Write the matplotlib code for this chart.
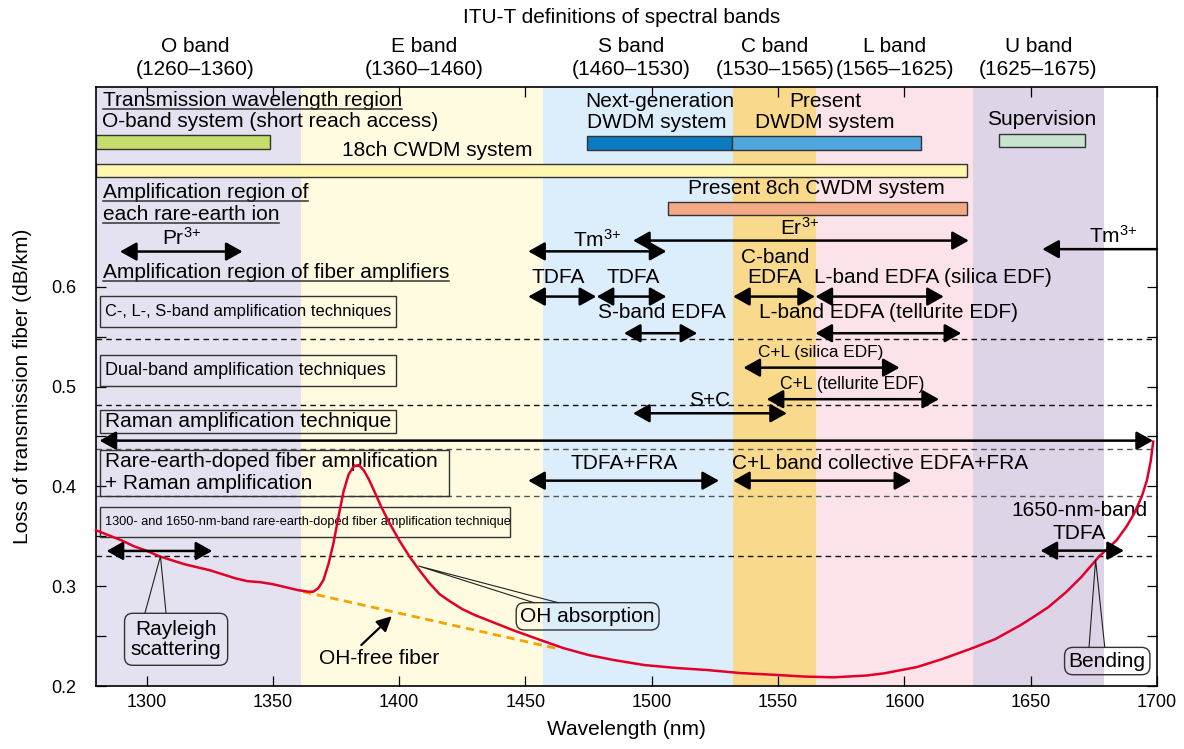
import matplotlib
matplotlib.use('Agg')
import matplotlib.pyplot as plt
from matplotlib.patches import Rectangle
from matplotlib import font_manager
import numpy as np

plt.rcParams['font.family'] = ['Liberation Sans', 'DejaVu Sans']
plt.rcParams['mathtext.default'] = 'regular'

# Liberation Sans Narrow for the squeezed labels, if it is there
narrow = None
for f in font_manager.fontManager.ttflist:
    if f.name == 'Liberation Sans Narrow' and f.weight in (400, 'normal') and f.style == 'normal':
        narrow = f.fname

# ITU-T bands
band_names = ['O band', 'E band', 'S band', 'C band', 'L band', 'U band']
band_ranges = ['(1260–1360)', '(1360–1460)', '(1460–1530)', '(1530–1565)', '(1565–1625)', '(1625–1675)']
band_label_x = [1319.1, 1410.0, 1491.7, 1548.7, 1596.2, 1653.0]
shade_start = [1280, 1361, 1457, 1532, 1565, 1627]
shade_end = [1361, 1457, 1532, 1565, 1627, 1679]
shade_colors = ['#e4e2f0', '#fefbe0', '#dcedfb', '#f9da8c', '#fce3e9', '#ddd4e7']

# loss of transmission fiber
loss_wl = [1280, 1285, 1290, 1295, 1300, 1305, 1310, 1315, 1320, 1325, 1330, 1335,
           1340, 1345, 1350, 1355, 1360, 1364, 1366, 1368, 1370, 1372, 1374, 1376,
           1378, 1380, 1382, 1384, 1386, 1388, 1390, 1393, 1396, 1400, 1404, 1408,
           1412, 1416, 1420, 1425, 1430, 1436, 1445, 1456, 1465, 1475, 1485, 1497,
           1510, 1522, 1535, 1550, 1560, 1572, 1585, 1592, 1605, 1615, 1627, 1636,
           1646, 1651, 1657, 1664, 1670, 1677, 1684, 1688, 1691, 1694, 1696, 1697.5,
           1698.5]
loss_db = [0.356, 0.351, 0.346, 0.340, 0.3355, 0.330, 0.326, 0.322, 0.319, 0.316, 0.312, 0.308,
           0.305, 0.304, 0.302, 0.299, 0.296, 0.2945, 0.2945, 0.298, 0.306, 0.322, 0.343, 0.370,
           0.395, 0.412, 0.420, 0.4214, 0.416, 0.407, 0.396, 0.379, 0.364, 0.346, 0.330, 0.316,
           0.303, 0.292, 0.285, 0.277, 0.271, 0.265, 0.256, 0.246, 0.238, 0.231, 0.226, 0.221,
           0.218, 0.216, 0.213, 0.211, 0.2095, 0.2087, 0.2105, 0.2127, 0.219, 0.227, 0.238, 0.247,
           0.261, 0.269, 0.279, 0.294, 0.309, 0.3296, 0.346, 0.360, 0.373, 0.390, 0.406, 0.425,
           0.4448]
ohfree_wl = [1362, 1462]
ohfree_db = [0.2945, 0.2378]

# system bars: start, end, bottom, top, colour
bar_start = [1280, 1280, 1474.3, 1531.8, 1637.4, 1506.3]
bar_end = [1348.7, 1624.8, 1531.8, 1606.5, 1671.3, 1624.8]
bar_low = [0.7381, 0.7097, 0.7371, 0.7371, 0.7397, 0.6719]
bar_high = [0.7521, 0.7230, 0.7505, 0.7505, 0.7528, 0.6853]
bar_colors = ['#c6dc6c', '#fff6b0', '#0a7bc1', '#4fa6dc', '#c7e4cf', '#f5aa86']

# amplification ranges (from, to, level, style)
amp_from = [1289.5, 1451.1, 1492.6, 1700, 1451.1, 1478.2, 1532.2, 1564.8, 1489, 1564.8,
            1536.3, 1545.5, 1492.6, 1281.4, 1451.1, 1532.2, 1284.2, 1653.9]
amp_to = [1338, 1505.8, 1625.5, 1654.6, 1478, 1505.8, 1564.6, 1615.6, 1518, 1622.5,
          1598.1, 1613.7, 1553.5, 1698.4, 1526.6, 1602.7, 1326, 1686.9]
amp_level = [0.6352, 0.6354, 0.6462, 0.6376, 0.5901, 0.5901, 0.5901, 0.5901, 0.5534, 0.5534,
             0.5189, 0.4873, 0.4732, 0.4458, 0.4057, 0.4057, 0.3353, 0.3356]
amp_style = ['<|-|>', '<|-|>', '<|-|>', '-|>'] + ['<|-|>'] * 14

# separators
sep_y = [0.5477, 0.4816, 0.4372, 0.3907, 0.3298]
sep_col = ['#111111', '#111111', '#555555', '#555555', '#111111']

FS = 15

fig = plt.figure(figsize=(11.84, 7.49), dpi=100)
ax = fig.add_axes([0.0811, 0.0841, 0.8961, 0.7997])
ax.set_xlim(1280, 1700)
ax.set_ylim(0.2, 0.8)

for s, e, c in zip(shade_start, shade_end, shade_colors):
    ax.axvspan(s, e, color=c, lw=0, zorder=0)

for y, c in zip(sep_y, sep_col):
    ax.axhline(y, color=c, lw=1, ls=(0, (4, 3)), zorder=1)

for x0, x1, y0, y1, c in zip(bar_start, bar_end, bar_low, bar_high, bar_colors):
    ax.add_patch(Rectangle((x0, y0), x1 - x0, y1 - y0, fc=c, ec='#333333', lw=1, zorder=2))

ax.plot(ohfree_wl, ohfree_db, color='#f5a300', lw=2, ls=(0, (3, 2)), zorder=3)
ax.plot(loss_wl, loss_db, color='#e2002b', lw=1.8, zorder=4, clip_on=False)

for x0, x1, y, st in zip(amp_from, amp_to, amp_level, amp_style):
    ax.annotate('', xy=(x1, y), xytext=(x0, y),
                arrowprops=dict(arrowstyle=st + ',head_length=0.5,head_width=0.28',
                                mutation_scale=20, lw=1.8, color='black',
                                shrinkA=0, shrinkB=0), zorder=5)

# band headers
ax.text(1488.1, 0.8693, 'ITU-T definitions of spectral bands', ha='center', va='center', fontsize=FS)
for x, n, r in zip(band_label_x, band_names, band_ranges):
    ax.text(x, 0.8403, n, ha='center', va='center', fontsize=FS)
    ax.text(x, 0.8172, r, ha='center', va='center', fontsize=FS)

squeezed = []  # (text artist, target width in px)


def squeeze(x, y, s, size, width, **kw):
    props = dict(ha='left', va='center', fontsize=size)
    props.update(kw)
    if narrow:
        props['fontproperties'] = font_manager.FontProperties(fname=narrow, size=size)
        props.pop('fontsize')
    t = ax.text(x, y, s, **props)
    squeezed.append((t, width))
    return t


# left-hand boxes
box_low = [0.5597, 0.5006, 0.4535]
box_high = [0.5908, 0.5317, 0.4766]
for y0, y1 in zip(box_low, box_high):
    ax.add_patch(Rectangle((1281.4, y0), 1398.6 - 1281.4, y1 - y0, fc='none', ec='#333333', lw=1, zorder=3))
squeeze(1283.6, 0.5752, 'C-, L-, S-band amplification techniques', FS - 1, 285)
squeeze(1283.6, 0.5161, 'Dual-band amplification techniques', FS - 1, 282)
ax.text(1283.6, 0.4650, 'Raman amplification technique', ha='left', va='center', fontsize=FS)
ax.add_patch(Rectangle((1281.4, 0.3904), 1419.8 - 1281.4, 0.0461, fc='none', ec='#333333', lw=1, zorder=3))
ax.text(1283.6, 0.4244, 'Rare-earth-doped fiber amplification', ha='left', va='center', fontsize=FS)
ax.text(1283.6, 0.4024, '+ Raman amplification', ha='left', va='center', fontsize=FS)
ax.add_patch(Rectangle((1281.4, 0.3493), 1443.8 - 1281.4, 0.0301, fc='none', ec='#333333', lw=1, zorder=3))
squeeze(1283.6, 0.3643, '1300- and 1650-nm-band rare-earth-doped fiber amplification technique', FS - 2, 403)
squeeze(1566.8, 0.5343, 'C+L (silica EDF)', FS - 2, 125, ha='center')
squeeze(1579.2, 0.5022, 'C+L (tellurite EDF)', FS - 2, 145, ha='center')

# underlined headings
under = []
for x, y, t in [(1282.6, 0.7812, 'Transmission wavelength region'),
                (1282.6, 0.6890, 'Amplification region of'),
                (1282.6, 0.6670, 'each rare-earth ion'),
                (1282.6, 0.6088, 'Amplification region of fiber amplifiers')]:
    under.append(ax.text(x, y, t, ha='left', va='baseline', fontsize=FS))

labels = [
    (1282.2, 0.7651, 'O-band system (short reach access)'),
    (1414.9, 0.7365, '18ch CWDM system'),
    (1503.2, 0.7852, 'Next-generation'), (1502.0, 0.7641, 'DWDM system'),
    (1568.5, 0.7852, 'Present'), (1568.5, 0.7641, 'DWDM system'),
    (1654.5, 0.7671, 'Supervision'),
    (1565.3, 0.6980, 'Present 8ch CWDM system'),
    (1313.9, 0.6489, 'Pr$^{3{+}}$'), (1478.2, 0.6469, 'Tm$^{3{+}}$'),
    (1558.6, 0.6589, 'Er$^{3{+}}$'), (1682.6, 0.6509, 'Tm$^{3{+}}$'),
    (1463.0, 0.6088, 'TDFA'), (1492.5, 0.6088, 'TDFA'),
    (1548.7, 0.6289, 'C-band'), (1548.7, 0.6088, 'EDFA'),
    (1611.3, 0.6088, 'L-band EDFA (silica EDF)'),
    (1504.0, 0.5743, 'S-band EDFA'), (1593.7, 0.5743, 'L-band EDFA (tellurite EDF)'),
    (1523.0, 0.4856, 'S+C'),
    (1488.9, 0.4224, 'TDFA+FRA'), (1590.3, 0.4224, 'C+L band collective EDFA+FRA'),
    (1669.3, 0.3754, '1650-nm-band'), (1669.3, 0.3523, 'TDFA'),
    (1391.9, 0.2277, 'OH-free fiber'),
]
for x, y, t in labels:
    ha = 'left' if x < 1283 else 'center'
    ax.text(x, y, t, ha=ha, va='center', fontsize=FS)

# callouts
ax.annotate('', xy=(1397.1, 0.270), xytext=(1385.0, 0.241),
            arrowprops=dict(arrowstyle='-|>,head_length=0.5,head_width=0.25', mutation_scale=18,
                            lw=1.6, color='black', shrinkA=0, shrinkB=0))
ax.plot([1299.4, 1305.5, 1307.7], [0.2734, 0.330, 0.2734], color='#222222', lw=0.8, zorder=6)
ax.plot([1453.3, 1407.7, 1462.9], [0.2835, 0.3202, 0.2835], color='#222222', lw=0.8, zorder=6)
ax.plot([1673.1, 1675.7, 1679.3], [0.2391, 0.3263, 0.2391], color='#222222', lw=0.8, zorder=6)
bx = dict(boxstyle='round,pad=0.3,rounding_size=0.4', fc='none', ec='#333333', lw=1)
ax.text(1311.7, 0.2468, 'Rayleigh\nscattering', ha='center', va='center', fontsize=FS,
        linespacing=1.1, bbox=bx)
ax.text(1474.6, 0.2698, 'OH absorption', ha='center', va='center', fontsize=FS,
        bbox=dict(boxstyle='round,pad=0.2,rounding_size=0.4', fc='none', ec='#333333', lw=1))
ax.text(1680.3, 0.2250, 'Bending', ha='center', va='center', fontsize=FS,
        bbox=dict(boxstyle='round,pad=0.2,rounding_size=0.4', fc='none', ec='#333333', lw=1))

ax.set_xticks(range(1300, 1701, 50))
ax.set_yticks([0.2, 0.3, 0.4, 0.5, 0.6])
ax.set_yticks([0.25, 0.35, 0.45, 0.55], minor=True)
ax.tick_params(axis='both', which='both', direction='in', length=7, width=0.9,
               top=True, right=True, labelsize=FS - 2)
ax.tick_params(axis='y', pad=14)
ax.tick_params(axis='x', pad=6)
for sp in ax.spines.values():
    sp.set_linewidth(1.2)
ax.set_xlabel('Wavelength (nm)', fontsize=FS, labelpad=6)
ax.set_ylabel('Loss of transmission fiber (dB/km)', fontsize=FS, labelpad=14)

fig.canvas.draw()
r = fig.canvas.get_renderer()
for t, w in squeezed:
    cur = t.get_window_extent(r).width
    t.set_fontsize(t.get_fontsize() * w / cur)

fig.canvas.draw()
inv = ax.transData.inverted()
for t in under:
    bb = t.get_window_extent(r)
    x0, _ = inv.transform((bb.x0, 0))
    x1, _ = inv.transform((bb.x1, 0))
    _, yb = inv.transform(ax.transData.transform((0, t.get_position()[1])) - np.array([0, 3]))
    ax.plot([x0, x1], [yb, yb], color='#333333', lw=1.1, zorder=6)

fig.savefig('out.png', dpi=100)
